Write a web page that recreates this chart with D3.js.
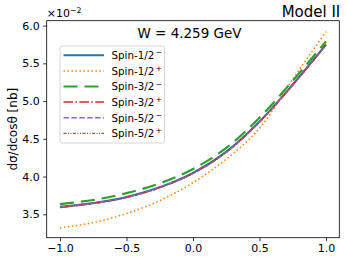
<!DOCTYPE html>
<html><head><meta charset="utf-8">
<script src="https://cdn.jsdelivr.net/npm/d3@7"></script>
<style>body{margin:0;background:#fff}svg{display:block}text{font-family:"DejaVu Sans",sans-serif;fill:#000}</style>
</head><body><div id="chart"></div>
<script>
// cos(theta) sample points
const cosTheta = [-1, -0.75, -0.5, -0.25, 0, 0.25, 0.5, 0.75, 1];
// dsigma/dcos(theta) in units of 1e-2 nb
const spin12m = [3.60, 3.65, 3.73, 3.86, 4.05, 4.33, 4.73, 5.22, 5.75];
const spin12p = [3.32, 3.39, 3.51, 3.68, 3.92, 4.23, 4.64, 5.29, 5.92];
const spin32m = [3.635, 3.69, 3.78, 3.91, 4.10, 4.38, 4.78, 5.27, 5.79];
const spin32p = [3.59, 3.645, 3.725, 3.855, 4.045, 4.325, 4.725, 5.215, 5.745];
const spin52m = [3.595, 3.645, 3.725, 3.855, 4.04, 4.32, 4.72, 5.21, 5.74];
const spin52p = [3.59, 3.64, 3.72, 3.85, 4.04, 4.32, 4.72, 5.21, 5.74];
const seriesNames = ["Spin-1/2", "Spin-1/2", "Spin-3/2", "Spin-3/2", "Spin-5/2", "Spin-5/2"];
const seriesParity = ["\u2212", "+", "\u2212", "+", "\u2212", "+"];
const xTicks = [-1.0, -0.5, 0.0, 0.5, 1.0];
const yTicks = [3.5, 4.0, 4.5, 5.0, 5.5, 6.0];
const titleText = "Model II";
const energyText = "W  = 4.259 GeV";
const yLabel = "d\u03C3/dcos\u03B8 [nb]";

const seriesValues = [spin12m, spin12p, spin32m, spin32p, spin52m, spin52p];
const styles = [
  {color:"#1f77b4", w:2, dash:null},
  {color:"#ff7f0e", w:1.5, dash:"1.5,2.5"},
  {color:"#2ca02c", w:2.2, dash:"14,7"},
  {color:"#d62728", w:1.5, dash:"9.6,2.4,1.5,2.4"},
  {color:"#9467bd", w:1.5, dash:"5.5,2.4"},
  {color:"#8c564b", w:1.2, dash:"3,1.5,1,1.5,1,1.5"}
];

const W = 347, H = 261;
const L = 46.7, R = 339.3, T = 20.7, B = 237.7;
const svg = d3.select("#chart").append("svg").attr("width", W).attr("height", H);
const x = d3.scaleLinear().domain([-1.1, 1.1]).range([L, R]);
const y = d3.scaleLinear().domain([3.19, 6.065]).range([B, T]);

const fmtMinus = v => d3.format(".1f")(v).replace("-", "\u2212");

svg.append("clipPath").attr("id","clip").append("rect")
  .attr("x", L).attr("y", T).attr("width", R-L).attr("height", B-T);

const line = d3.line().x(d => x(d[0])).y(d => y(d[1])).curve(d3.curveCatmullRom.alpha(0.5));
const g = svg.append("g").attr("clip-path","url(#clip)");
seriesValues.forEach((vals, i) => {
  const s = styles[i];
  g.append("path")
    .datum(cosTheta.map((c, j) => [c, vals[j]]))
    .attr("d", line)
    .attr("fill","none")
    .attr("stroke", s.color)
    .attr("stroke-width", s.w)
    .attr("stroke-dasharray", s.dash);
});

// axes
const xAxis = d3.axisBottom(x).tickValues(xTicks).tickFormat(fmtMinus).tickSizeOuter(0).tickSize(3.5).tickPadding(3.5);
const yAxis = d3.axisLeft(y).tickValues(yTicks).tickFormat(d3.format(".1f")).tickSizeOuter(0).tickSize(3.5).tickPadding(3.5);
const gx = svg.append("g").attr("transform", `translate(0,${B})`).call(xAxis);
const gy = svg.append("g").attr("transform", `translate(${L},0)`).call(yAxis);
[gx, gy].forEach(a => {
  a.select(".domain").remove();
  a.selectAll("text").style("font-family","DejaVu Sans").style("font-size","11px").attr("fill","#000");
  a.selectAll("line").attr("stroke","#000").attr("stroke-width",0.8);
});
svg.append("rect").attr("x", L).attr("y", T).attr("width", R-L).attr("height", B-T)
  .attr("fill","none").attr("stroke","#000").attr("stroke-width",0.8);

// offset text
const off = svg.append("text").attr("x", L).attr("y", 17).style("font-size","11px");
off.append("tspan").text("\u00D710");
off.append("tspan").attr("dy", -4.5).style("font-size","7.8px").text("\u22122");

// title
svg.append("text").attr("x", R + 1).attr("y", 17).attr("text-anchor","end").style("font-size","15px").text(titleText);
svg.append("text").attr("x", 189.5).attr("y", 38).attr("text-anchor","middle").style("font-size","13.5px").text(energyText);

// y label
svg.append("text").attr("transform", `translate(17,${(T+B)/2}) rotate(-90)`).attr("text-anchor","middle")
  .style("font-size","12px").text(yLabel);

// legend
const lg = svg.append("g");
lg.append("rect").attr("x", 60).attr("y", 46).attr("width", 104.5).attr("height", 97)
  .attr("rx", 2).attr("fill","#fff").attr("fill-opacity",0.8).attr("stroke","#cccccc").attr("stroke-width",0.8);
seriesNames.forEach((n, i) => {
  const yy = 55.3 + i * 15.6;
  const s = styles[i];
  lg.append("line").attr("x1", 63.5).attr("x2", 104).attr("y1", yy).attr("y2", yy)
    .attr("stroke", s.color).attr("stroke-width", s.w).attr("stroke-dasharray", s.dash);
  const t = lg.append("text").attr("x", 111.5).attr("y", yy + 3.8).style("font-size","10.3px");
  t.append("tspan").text(n);
  t.append("tspan").attr("dx", 1.5).attr("dy", -3.8).style("font-size","7.3px").text(seriesParity[i]);
});
</script></body></html>
